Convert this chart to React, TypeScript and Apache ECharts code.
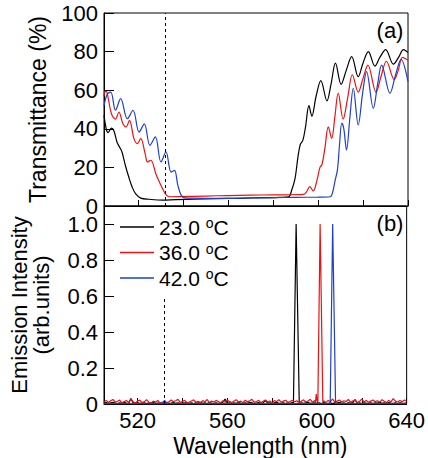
import React, { useEffect, useRef } from 'react';
import * as echarts from 'echarts';

const FONT = '"Liberation Sans", Arial, Helvetica, sans-serif';

const seriesNames = ['23.0 °C', '36.0 °C', '42.0 °C'];
const seriesColors = ['#000000', '#ee1111', '#1f3fcf'];

const xTicks = [520, 540, 560, 580, 600, 620, 640];
const xLabels = [520, 560, 600, 640];
const transTicks = [0, 20, 40, 60, 80, 100];
const emisTicks = [0, 0.2, 0.4, 0.6, 0.8, 1.0];
const laserLine = 532;

// Transmittance (%) vs wavelength (nm)
const trans23: [number, number][] = [[505,47],[506,40],[506.8,38],[508.3,40.4],[509.4,39],[510.8,33],[512.3,29.7],[513,28],[514.5,21],[516,15],[517.5,9.8],[519,6.4],[521.3,4.1],[525,3.5],[531,3],[537,3.3],[545,3.5],[555,3.8],[565,4],[575,4.3],[583,4.5],[587,4.8],[588.3,8],[589.8,14],[591.2,26],[592.2,32],[593.3,34],[594.5,41],[596,52],[597.3,46.5],[599.2,57],[601.3,65],[604,54.5],[605.8,63],[607.8,74],[610.3,63],[612.5,70],[615,77.4],[617.9,67],[620,74],[622.4,80],[625.3,72.5],[627.5,77],[630.1,81],[633.5,73.5],[635.8,77],[638,81],[640,79.5]];
const trans36: [number, number][] = [[505,57],[505.6,59.4],[506.3,59],[508.3,47.8],[510.1,45],[511.6,48.7],[513.4,42.6],[514.8,41],[516.3,44.4],[518.3,34.9],[519.8,32.3],[521.3,34.9],[523.3,27],[524.3,22.8],[525.8,23.7],[528,16.7],[529.6,12.4],[531,9],[532.8,5.5],[534.5,4.8],[545,5],[555,5.3],[565,5.5],[575,5.7],[585,5.8],[593.5,6],[595,7.5],[596.4,10],[597.9,7.8],[599.4,12.5],[600.9,20],[601.8,21.5],[603.1,30],[604.6,41],[606.1,35],[607.5,46],[609,58.5],[611.2,45],[613.2,56],[615.3,68],[617.9,59],[620,66],[622.2,73],[625.8,59],[628,67],[630.4,75],[633.9,65.5],[635.6,70],[637.6,77],[640,75.5]];
const trans42: [number, number][] = [[505,52],[506.5,58],[508,59],[510.1,49.6],[512.4,55.6],[515.4,45.2],[517.9,49.6],[520.6,38.3],[522.9,42.6],[525.4,31.4],[527.8,35.8],[530.3,22.8],[532.5,28],[534.8,17.6],[536.3,18.5],[537.8,10.7],[539.3,5.5],[541,4.2],[550,4],[560,4],[570,4.2],[580,4.3],[590,4.5],[600,4.6],[605.5,4.8],[606.5,7],[607.6,13],[608.7,19],[609.6,32],[610.6,43],[611.5,40],[612.7,29],[614.2,46],[615.7,61],[617.9,42],[619.8,58],[621.6,69.6],[624.6,50.6],[626.5,63],[628.3,73],[632,58.4],[634.5,68],[636.9,76],[640,64.4]];

// Emission: baseline noise sampled every 1 nm from 505 to 640 nm
const noiseStart = 505;
const noise23 = [0.004,0.008,0.003,0.006,0.01,0.005,0.002,0.007,0.004,0.009,0.005,0.003,0.03,0.006,0.004,0.008,0.003,0.005,0.007,0.002,0.006,0.004,0.009,0.003,0.005,0.007,0.004,0.006,0.01,0.003,0.005,0.008,0.004,0.006,0.003,0.007,0.005,0.009,0.004,0.006,0.003,0.007,0.005,0.01,0.004,0.006,0.003,0.008,0.005,0.004,0.007,0.003,0.006,0.009,0.028,0.005,0.007,0.003,0.006,0.004,0.008,0.005,0.003,0.007,0.004,0.009,0.006,0.003,0.005,0.008,0.004,0.006,0.02,0.005,0.007,0.003,0.006,0.009,0.004,0.005,0.007,0.003,0.006,0.004,0.008,0.005,0.006,0.003,0.007,0.004,0.006,0.009,0.003,0.005,0.007,0.004,0.006,0.003,0.008,0.005,0.004,0.007,0.003,0.006,0.005,0.009,0.004,0.006,0.003,0.007,0.005,0.008,0.025,0.004,0.006,0.003,0.007,0.005,0.004,0.006,0.003,0.007,0.005,0.009,0.004,0.006,0.003,0.008,0.005,0.004,0.006,0.003,0.007,0.005,0.004,0.006];
const noise36 = [0.012,0.02,0.008,0.018,0.025,0.01,0.015,0.022,0.006,0.014,0.019,0.009,0.028,0.012,0.005,0.017,0.021,0.008,0.013,0.024,0.01,0.006,0.016,0.011,0.02,0.004,0.009,0.015,0.007,0.012,0.022,0.013,0.018,0.026,0.009,0.014,0.02,0.006,0.011,0.017,0.023,0.01,0.015,0.007,0.019,0.012,0.025,0.008,0.016,0.011,0.02,0.014,0.006,0.018,0.01,0.022,0.013,0.009,0.017,0.024,0.011,0.016,0.007,0.021,0.012,0.018,0.026,0.009,0.014,0.02,0.008,0.015,0.022,0.011,0.017,0.006,0.019,0.013,0.024,0.01,0.016,0.021,0.009,0.014,0.02,0.012,0.018,0.007,0.015,0.023,0.011,0.017,0.026,0.01,0.019,0.014,0.02,0.012,0.018,0.009,0.02,0.013,0.028,0.009,0.016,0.022,0.011,0.018,0.014,0.025,0.01,0.017,0.021,0.008,0.015,0.027,0.012,0.019,0.009,0.016,0.022,0.013,0.018,0.01,0.024,0.015,0.008,0.02,0.012,0.03,0.016,0.011,0.019,0.013,0.022,0.015];
const noise42 = [0.002,0.001,0.003,0.001,0.002,0.004,0.001,0.002,0.003,0.001,0.002,0.003,0.001,0.002,0.001,0.003,0.002,0.001,0.004,0.002,0.001,0.003,0.002,0.001,0.002,0.003,0.001,0.02,0.002,0.001,0.003,0.001,0.002,0.004,0.001,0.002,0.003,0.001,0.002,0.001,0.002,0.003,0.001,0.002,0.004,0.001,0.002,0.003,0.001,0.002,0.001,0.003,0.002,0.001,0.002,0.003,0.001,0.002,0.004,0.001,0.002,0.001,0.003,0.002,0.001,0.002,0.003,0.001,0.002,0.001,0.003,0.002,0.001,0.002,0.004,0.001,0.002,0.003,0.001,0.002,0.001,0.002,0.003,0.001,0.002,0.001,0.003,0.002,0.001,0.002,0.003,0.001,0.002,0.004,0.001,0.002,0.003,0.001,0.002,0.001,0.002,0.003,0.001,0.002,0.001,0.003,0.002,0.001,0.002,0.004,0.001,0.002,0.003,0.001,0.002,0.001,0.003,0.002,0.001,0.002,0.003,0.001,0.002,0.001,0.004,0.002,0.001,0.003,0.002,0.001,0.002,0.001,0.003,0.002,0.001,0.002];

// Emission peaks (nm, intensity)
const peak23: [number, number][] = [[589.5,0.004],[590.7,1.0],[592.1,0.004]];
const peak36: [number, number][] = [[599.3,0.01],[599.7,0.055],[600.1,0.01],[600.4,0.012],[601.4,1.0],[602.6,0.012]];
const peak42: [number, number][] = [[605.9,0.002],[607.0,1.0],[608.3,0.002]];

function emission(noise: number[], peak: [number, number][]): [number, number][] {
  const lo = peak[0][0];
  const hi = peak[peak.length - 1][0];
  const pts: [number, number][] = [];
  noise.forEach((v, i) => {
    const x = noiseStart + i;
    if (x < lo || x > hi) pts.push([x, v]);
  });
  return pts.concat(peak).sort((a, b) => a[0] - b[0]);
}

export default function App() {
  const ref = useRef<HTMLDivElement>(null);
  useEffect(() => {
    const chart = echarts.init(ref.current!, null, { renderer: 'svg' });
    const axisText = { fontSize: 22, lineHeight: 16, color: '#000', fontFamily: FONT };
    const transData = [trans23, trans36, trans42];
    const emisData = [emission(noise23, peak23), emission(noise36, peak36), emission(noise42, peak42)];
    const dash = { color: '#000', type: [3, 3] as any, width: 1 };
    const series: any[] = [];
    transData.forEach((d, i) => {
      series.push({
        name: seriesNames[i], type: 'line', xAxisIndex: 0, yAxisIndex: 0, data: d,
        symbol: 'none', smooth: 0.35, lineStyle: { color: seriesColors[i], width: 1.2 },
        itemStyle: { color: seriesColors[i] },
        markLine: i === 0 ? { silent: true, symbol: 'none', label: { show: false }, lineStyle: dash, data: [{ xAxis: laserLine }] } : undefined,
      });
    });
    emisData.forEach((d, i) => {
      series.push({
        name: seriesNames[i], type: 'line', xAxisIndex: 1, yAxisIndex: 1, data: d,
        symbol: 'none', lineStyle: { color: seriesColors[i], width: 1.2 },
        itemStyle: { color: seriesColors[i] },
        markLine: i === 0 ? { silent: true, symbol: 'none', label: { show: false }, lineStyle: dash, data: [[{ coord: [laserLine, 0] }, { coord: [laserLine, 0.6] }]] } : undefined,
      });
    });
    const option: any = {
      animation: false,
      backgroundColor: '#fff',
      grid: [
        { left: 104, top: 13, width: 304, height: 193, show: true, borderColor: '#000', borderWidth: 1, backgroundColor: 'transparent' },
        { left: 104, top: 206, width: 304, height: 199, show: true, borderColor: '#000', borderWidth: 1, backgroundColor: 'transparent' },
      ],
      xAxis: [
        {
          gridIndex: 0, type: 'value', min: 505, max: 640,
          axisLine: { show: true, lineStyle: { color: '#000' } },
          axisTick: { show: true, inside: true, length: 6, customValues: xTicks, lineStyle: { color: '#000' } },
          axisLabel: { show: false }, splitLine: { show: false },
        },
        {
          gridIndex: 1, type: 'value', min: 505, max: 640,
          axisLine: { show: true, lineStyle: { color: '#000' } },
          axisTick: { show: true, inside: true, length: 6, customValues: xTicks, lineStyle: { color: '#000' } },
          axisLabel: { show: true, customValues: xLabels, margin: 8, ...axisText },
          splitLine: { show: false },
          name: 'Wavelength (nm)', nameLocation: 'middle', nameGap: 30,
          nameTextStyle: { fontSize: 23, color: '#000', fontFamily: FONT, padding: [0, 0, 0, 10] },
        },
      ],
      yAxis: [
        {
          gridIndex: 0, type: 'value', min: 0, max: 100, interval: 20,
          axisLine: { show: true, lineStyle: { color: '#000' } },
          axisTick: { show: true, inside: true, length: 10, customValues: transTicks, lineStyle: { color: '#000' } },
          axisLabel: { show: true, customValues: transTicks, margin: 6, ...axisText },
          splitLine: { show: false },
          name: 'Transmittance (%)', nameLocation: 'middle', nameGap: 55,
          nameTextStyle: { fontSize: 23, color: '#000', fontFamily: FONT },
        },
        {
          gridIndex: 1, type: 'value', min: 0, max: 1.1,
          axisLine: { show: true, lineStyle: { color: '#000' } },
          axisTick: { show: true, inside: true, length: 10, customValues: emisTicks, lineStyle: { color: '#000' } },
          axisLabel: {
            show: true, customValues: emisTicks, margin: 6, ...axisText,
            formatter: (v: number) => (v === 0 ? '0' : v.toFixed(1)),
          },
          splitLine: { show: false },
          name: 'Emission Intensity\n(arb.units)', nameLocation: 'middle', nameGap: 52,
          nameTextStyle: { fontSize: 22, lineHeight: 22, color: '#000', fontFamily: FONT },
        },
      ],
      legend: {
        data: seriesNames, orient: 'vertical', left: 120, top: 216, padding: 0,
        icon: 'rect', itemWidth: 34, itemHeight: 1.3, itemGap: 4,
        formatter: (name: string) => {
          const t = name.replace(' °C', '');
          return `{n|${t} }{s|o}{n|C}`;
        },
        textStyle: {
          color: '#000', fontFamily: FONT, fontSize: 21,
          rich: {
            n: { fontSize: 21, lineHeight: 22, color: '#000', fontFamily: FONT },
            s: { fontSize: 14, lineHeight: 14, verticalAlign: 'top', color: '#000', fontFamily: FONT },
          },
        },
        selectedMode: false,
      },
      graphic: [
        { type: 'text', x: 390, y: 30, style: { text: '(a)', fontSize: 22, fontFamily: FONT, fill: '#000', align: 'center', verticalAlign: 'middle' } },
        { type: 'text', x: 390, y: 223, style: { text: '(b)', fontSize: 22, fontFamily: FONT, fill: '#000', align: 'center', verticalAlign: 'middle' } },
      ],
      series,
    };
    chart.setOption(option);
    return () => chart.dispose();
  }, []);
  return <div ref={ref} style={{ position: 'absolute', left: 0, top: 0, width: 428, height: 458 }} />;
}
